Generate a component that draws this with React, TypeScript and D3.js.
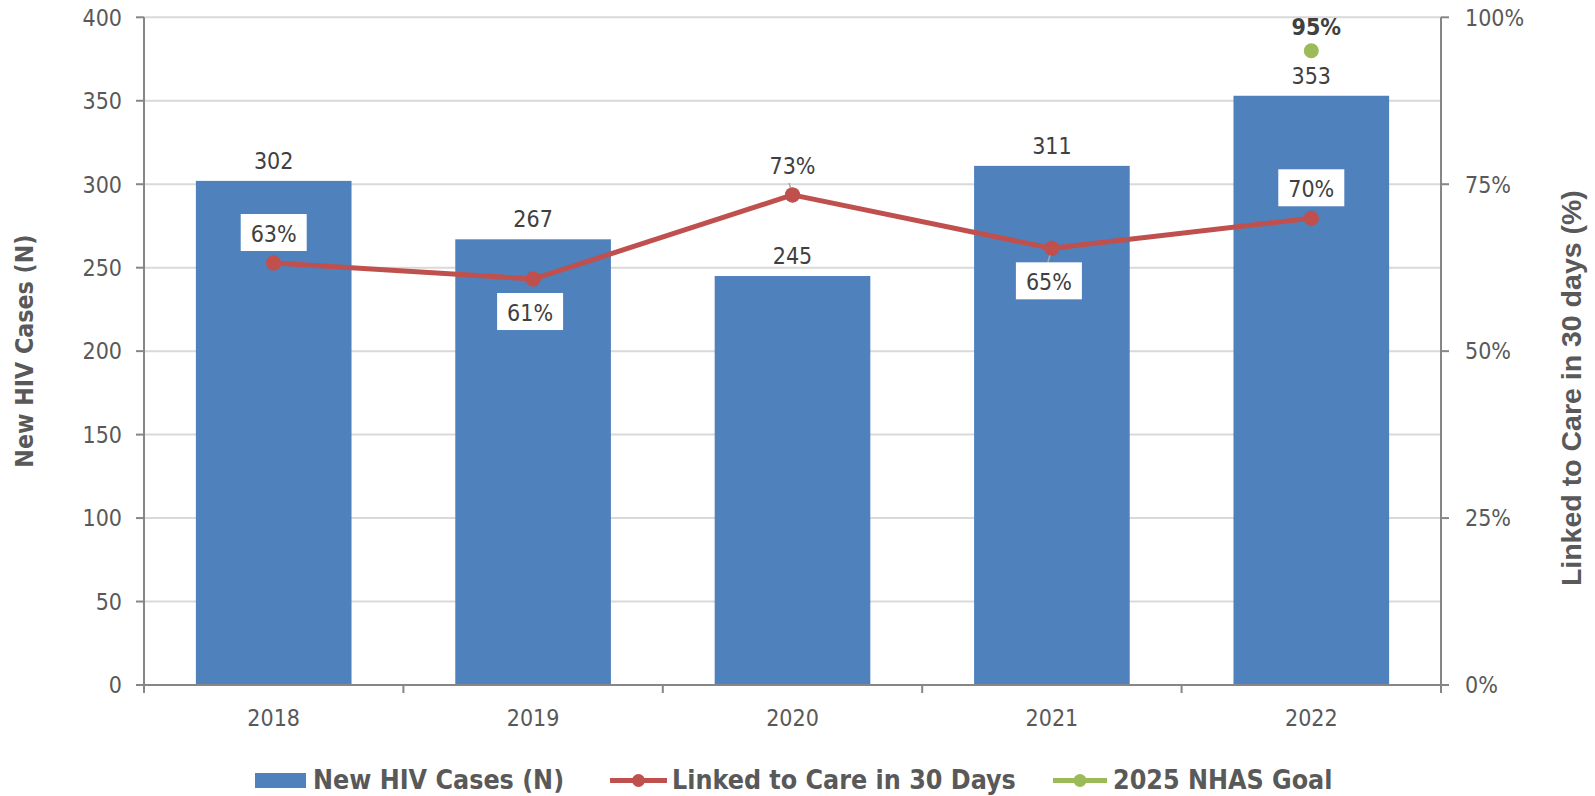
import React from 'react';
import * as d3 from 'd3';

// ---------- data ----------
const years = ['2018', '2019', '2020', '2021', '2022'];
const newCases = [302, 267, 245, 311, 353];
const linkedToCare = [0.632, 0.608, 0.734, 0.654, 0.699];
const linkedLabelSide = ['above', 'below', 'above', 'below', 'above'];
const linkedLabelLeader = [false, false, true, true, false];
const goalYear = '2022';
const goalValue = 0.95;
const leftTicks = [0, 50, 100, 150, 200, 250, 300, 350, 400];
const rightTicks = [0, 0.25, 0.5, 0.75, 1];
const seriesNames = ['New HIV Cases (N)', 'Linked to Care in 30 Days', '2025 NHAS Goal'];
const leftTitle = 'New HIV Cases (N)';
const rightTitle = 'Linked to Care in 30 days (%)';

// ---------- layout / style ----------
const W = 1595;
const H = 796;
const M = { left: 144, right: 1441, top: 17.3, bottom: 685 };
const BLUE = '#4f81bd';
const RED = '#c0504d';
const GREEN = '#9bbb59';
const AXIS = '#868686';
const GRID = '#d9d9d9';
const TICK_TEXT = '#595959';
const LABEL_TEXT = '#404040';
const FONT = "'DejaVu Sans Condensed', 'DejaVu Sans', sans-serif";
const ARIAL = "'Liberation Sans', Arial, sans-serif";

export default function App() {
  const x = d3
    .scaleBand<string>()
    .domain(years)
    .range([M.left, M.right])
    .paddingInner(0.4)
    .paddingOuter(0.2);
  const bw = x.bandwidth();
  const cx = (yr: string) => (x(yr) as number) + bw / 2;
  const yL = d3.scaleLinear().domain([0, 400]).range([M.bottom, M.top]);
  const yR = d3.scaleLinear().domain([0, 1]).range([M.bottom, M.top]);
  const pct = d3.format('.0%');

  const lineGen = d3
    .line<number>()
    .x((_, i) => cx(years[i]))
    .y((d) => yR(d));

  const boundaries = d3.range(years.length + 1).map((i) => M.left + (i * (M.right - M.left)) / years.length);

  const textStyle = { fontFamily: FONT, fontStretch: 'condensed' as const };

  return (
    <svg
      width={W}
      height={H}
      style={{ position: 'absolute', left: 0, top: 0, background: '#fff' }}
    >
      {/* gridlines */}
      {leftTicks
        .filter((t) => t > 0)
        .map((t) => (
          <line key={'g' + t} x1={M.left} x2={M.right} y1={yL(t)} y2={yL(t)} stroke={GRID} strokeWidth={2} />
        ))}

      {/* bars */}
      {years.map((yr, i) => (
        <rect
          key={'b' + yr}
          x={x(yr)}
          y={yL(newCases[i])}
          width={bw}
          height={yL(0) - yL(newCases[i])}
          fill={BLUE}
        />
      ))}

      {/* bar labels */}
      {years.map((yr, i) => (
        <text
          key={'bl' + yr}
          x={cx(yr)}
          y={yL(newCases[i]) - 12}
          textAnchor="middle"
          fontSize={23}
          fill={LABEL_TEXT}
          style={textStyle}
        >
          {newCases[i]}
        </text>
      ))}

      {/* axes */}
      <line x1={M.left} x2={M.left} y1={M.top} y2={M.bottom} stroke={AXIS} strokeWidth={2} />
      <line x1={M.right} x2={M.right} y1={M.top} y2={M.bottom} stroke={AXIS} strokeWidth={2} />
      <line x1={M.left - 8} x2={M.right + 8} y1={M.bottom} y2={M.bottom} stroke={AXIS} strokeWidth={2} />
      {boundaries.map((bx, i) => (
        <line key={'xt' + i} x1={bx} x2={bx} y1={M.bottom} y2={M.bottom + 8} stroke={AXIS} strokeWidth={2} />
      ))}
      {leftTicks.map((t) => (
        <g key={'lt' + t}>
          <line x1={M.left - 8} x2={M.left} y1={yL(t)} y2={yL(t)} stroke={AXIS} strokeWidth={2} />
          <text
            x={M.left - 22}
            y={yL(t)}
            dy="0.36em"
            textAnchor="end"
            fontSize={23}
            fill={TICK_TEXT}
            style={textStyle}
          >
            {t}
          </text>
        </g>
      ))}
      {rightTicks.map((t) => (
        <g key={'rt' + t}>
          <line x1={M.right} x2={M.right + 8} y1={yR(t)} y2={yR(t)} stroke={AXIS} strokeWidth={2} />
          <text
            x={M.right + 24}
            y={yR(t)}
            dy="0.36em"
            textAnchor="start"
            fontSize={23}
            fill={TICK_TEXT}
            style={textStyle}
          >
            {pct(t)}
          </text>
        </g>
      ))}
      {years.map((yr) => (
        <text
          key={'xl' + yr}
          x={cx(yr)}
          y={M.bottom + 41}
          textAnchor="middle"
          fontSize={23}
          fill={TICK_TEXT}
          style={textStyle}
        >
          {yr}
        </text>
      ))}

      {/* axis titles */}
      <text
        transform={`translate(33, ${(M.top + M.bottom) / 2}) rotate(-90)`}
        textAnchor="middle"
        fontSize={24.7}
        fontWeight="bold"
        fill={TICK_TEXT}
        style={textStyle}
      >
        {leftTitle}
      </text>
      <text
        transform={`translate(1581, ${(M.top + M.bottom) / 2 + 37}) rotate(-90)`}
        textAnchor="middle"
        fontSize={28.5}
        fontWeight="bold"
        fill={TICK_TEXT}
        fontFamily={ARIAL}
      >
        {rightTitle}
      </text>

      {/* linked to care line */}
      <path d={lineGen(linkedToCare) || ''} fill="none" stroke={RED} strokeWidth={5} strokeLinejoin="round" />
      {linkedToCare.map((v, i) => (
        <circle key={'m' + i} cx={cx(years[i])} cy={yR(v)} r={7.5} fill={RED} />
      ))}

      {/* linked labels */}
      {linkedToCare.map((v, i) => {
        const px = cx(years[i]);
        const py = yR(v);
        const bh = 37;
        const bwid = 66;
        const above = linkedLabelSide[i] === 'above';
        const top = above ? py - 12 - bh : py + 14;
        return (
          <g key={'ll' + i}>
            {linkedLabelLeader[i] && (
              <line
                x1={px}
                y1={py}
                x2={px - 4}
                y2={above ? top + bh - 2 : top}
                stroke="#a6a6a6"
                strokeWidth={1.5}
              />
            )}
            <rect x={px - bwid / 2 - (above ? 0 : 3)} y={top} width={bwid} height={bh} fill="#fff" />
            <text
              x={px - (above ? 0 : 3)}
              y={top + 28}
              textAnchor="middle"
              fontSize={23}
              fill={LABEL_TEXT}
              style={textStyle}
            >
              {pct(v)}
            </text>
          </g>
        );
      })}
      {/* redraw markers over leaders */}
      {linkedToCare.map((v, i) => (
        <circle key={'m2' + i} cx={cx(years[i])} cy={yR(v)} r={7.5} fill={RED} />
      ))}

      {/* goal point */}
      <circle cx={cx(goalYear)} cy={yR(goalValue)} r={7.5} fill={GREEN} />
      <text
        x={cx(goalYear) + 5}
        y={yR(goalValue) - 16}
        textAnchor="middle"
        fontSize={23}
        fontWeight="bold"
        fill={LABEL_TEXT}
        style={textStyle}
      >
        {pct(goalValue)}
      </text>

      {/* legend */}
      <g>
        <rect x={255} y={773} width={51} height={15} fill={BLUE} />
        <text x={313} y={789} fontSize={26.6} fontWeight="bold" fill={TICK_TEXT} style={textStyle}>
          {seriesNames[0]}
        </text>
        <line x1={610} x2={667} y1={780.5} y2={780.5} stroke={RED} strokeWidth={5} />
        <circle cx={638.5} cy={780.5} r={6.5} fill={RED} />
        <text x={672} y={789} fontSize={26.6} fontWeight="bold" fill={TICK_TEXT} style={textStyle}>
          {seriesNames[1]}
        </text>
        <line x1={1053} x2={1107} y1={780.5} y2={780.5} stroke={GREEN} strokeWidth={5} />
        <circle cx={1080} cy={780.5} r={6.5} fill={GREEN} />
        <text x={1113} y={789} fontSize={26.6} fontWeight="bold" fill={TICK_TEXT} style={textStyle}>
          {seriesNames[2]}
        </text>
      </g>
    </svg>
  );
}
